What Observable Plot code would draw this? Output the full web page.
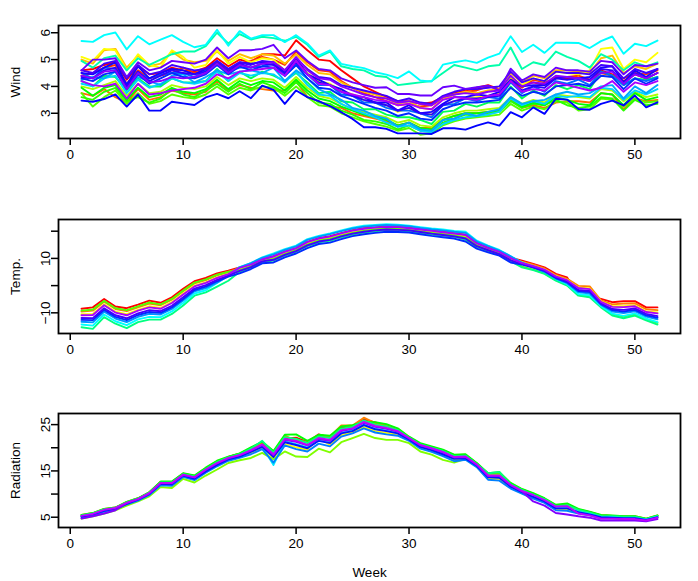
<!DOCTYPE html>
<html><head><meta charset="utf-8">
<script src="https://cdn.jsdelivr.net/npm/d3@7"></script>
<script src="https://cdn.jsdelivr.net/npm/@observablehq/plot@0.6"></script>
<style>
body{margin:0;background:#fff;}
#chart{width:698px;height:581px;overflow:hidden;}
#chart svg{display:block;}
</style>
</head><body><div id="chart"></div>
<script>
const weeks = [1,2,3,4,5,6,7,8,9,10,11,12,13,14,15,16,17,18,19,20,21,22,23,24,25,26,27,28,29,30,31,32,33,34,35,36,37,38,39,40,41,42,43,44,45,46,47,48,49,50,51,52];
const xTicks = [0,10,20,30,40,50];

// ---------- Wind ----------
const windRed = [4.6,4.65,4.8,4.9,4.25,4.75,4.45,4.5,4.7,4.6,4.55,4.7,5.05, 4.75,5.0,4.9,5.2,5.2,5.15,5.72,5.35,5.0,4.95,4.6,4.3,4.0, 3.8,3.6,3.45,3.45,3.35,3.4,3.6,3.75,3.85,3.95,4.05,3.9,4.3, 4.0,4.15,4.05,4.35,4.3,4.3,4.2,4.6,4.45,4.2,4.45,4.3,4.5];
const windVermilion = [4.4,4.5,4.7,4.8,4.1,4.6,4.3,4.4,4.5,4.7,4.5,4.6,4.9, 4.6,4.85,4.95,5.1,5.0,4.8,5.3,4.9,4.6,4.55,4.2,3.95,3.75, 3.6,3.45,3.3,3.35,3.25,3.3,3.55,3.7,3.8,3.85,4.0,3.9,4.2, 3.95,4.25,4.15,4.3,4.35,4.4,4.25,4.5,4.4,4.3,4.5,4.45,4.6];
const windOrange = [3.75,3.65,3.9,3.6,3.4,3.9,3.5,3.6,3.85,3.75,3.7,3.8,4.2, 3.85,4.05,3.95,3.9,3.85,3.85,4.2,3.6,3.45,3.25,3.2,3.0,2.9, 2.8,2.7,2.55,2.65,2.45,2.45,2.75,2.9,3.0,3.0,3.05,3.1,3.5, 3.2,3.3,3.2,3.4,3.45,3.45,3.4,3.75,3.7,3.15,3.55,3.45,3.5];
const windGold = [5.0,4.85,5.35,5.4,4.7,5.15,4.75,4.85,5.3,5.0,4.9,4.95,5.3, 4.95,5.2,5.05,5.2,5.15,4.85,5.2,4.8,4.5,4.45,4.15,3.95,3.8, 3.7,3.55,3.35,3.45,3.2,3.15,3.55,3.7,3.8,3.75,3.85,3.9,4.5, 4.15,4.4,4.3,4.6,4.6,4.55,4.5,5.05,5.15,4.5,4.75,4.65,4.85];
const windYellow = [5.1,4.95,5.4,5.35,4.6,5.2,4.8,4.7,5.35,5.1,4.7,4.8,5.35, 4.85,5.1,4.9,5.05,5.0,4.6,5.0,4.5,4.2,4.1,3.85,3.7,3.5, 3.4,3.3,3.05,3.2,3.0,2.95,3.3,3.45,3.55,3.6,3.65,3.75,4.35, 4.05,4.3,4.2,4.55,4.5,4.45,4.6,5.4,5.45,4.65,5.0,4.9,5.25];
const windChartreuse = [4.0,3.9,4.05,4.2,3.65,4.1,3.75,3.8,4.05,3.95,3.9,4.0,4.35, 4.05,4.3,4.2,4.3,4.25,3.95,4.35,3.95,3.65,3.55,3.35,3.15,3.05, 2.95,2.85,2.65,2.75,2.55,2.5,2.85,3.0,3.1,3.1,3.15,3.2,3.6, 3.35,3.5,3.4,3.7,3.65,3.6,3.55,3.9,3.85,3.45,3.8,3.6,3.7];
const windGreen = [3.75,3.25,3.6,3.85,3.35,3.75,3.35,3.45,3.7,3.6,3.55,3.7,4.0, 3.7,3.95,3.85,4.0,3.95,3.65,4.0,3.6,3.3,3.25,3.0,2.85,2.7, 2.6,2.5,2.35,2.45,2.2,2.25,2.55,2.7,2.8,2.85,2.9,2.95,3.35, 3.1,3.25,3.15,3.45,3.4,3.1,3.15,3.55,3.5,3.25,3.55,3.4,3.45];
const windLime = [3.6,3.5,3.8,3.95,3.45,3.6,3.4,3.55,3.9,3.7,3.6,3.85,4.1, 3.8,4.1,3.9,4.15,4.0,3.75,4.15,3.75,3.4,3.35,3.1,2.95,2.75, 2.7,2.6,2.4,2.55,2.35,2.3,2.65,2.8,2.95,2.9,3.0,3.05,3.45, 3.2,3.35,3.3,3.5,3.3,3.2,3.25,3.6,3.55,3.1,3.5,3.3,3.35];
const windGreen2 = [3.95,3.65,3.95,4.05,3.5,3.95,3.6,3.7,3.95,3.8,3.75,3.9,4.25, 3.9,4.2,4.05,4.2,4.15,3.85,4.25,3.85,3.55,3.45,3.25,3.1,2.95, 2.85,2.75,2.55,2.65,2.45,2.4,2.75,2.9,3.0,3.0,3.05,3.1,3.55, 3.25,3.4,3.3,3.6,3.5,3.35,3.3,3.75,3.7,3.3,3.75,3.5,3.6];
const windSpring = [4.2,4.0,4.4,4.35,3.85,4.3,4.0,4.0,4.3,4.15,4.15,4.2,4.65, 4.2,4.55,4.3,4.55,4.4,4.2,4.5,4.15,3.75,3.8,3.45,3.4,3.15, 3.15,2.95,2.85,2.85,2.75,2.6,3.05,3.1,3.35,3.25,3.4,3.4,4.0, 3.55,3.85,3.65,4.05,3.9,4.05,3.9,4.55,4.4,4.05,4.3,4.25,4.35];
const windTeal = [4.95,4.7,5.05,5.15,4.6,5.05,4.8,5.0,5.2,5.3,5.3,5.5,6.0, 5.6,5.95,5.75,5.85,5.8,5.7,5.85,5.55,5.1,5.3,4.75,4.65,4.6, 4.4,4.35,4.05,4.1,4.15,4.2,4.5,4.8,4.7,4.6,4.75,4.8,5.45, 4.65,4.9,4.8,5.3,5.1,4.95,4.7,5.2,5.0,4.6,4.9,4.75,4.9];
const windCyan = [5.69,5.66,5.91,6.01,5.38,5.87,5.57,5.74,5.91,5.66,5.46,5.55,6.11, 5.52,6.06,5.78,5.91,5.91,5.65,5.91,5.6,5.15,5.34,4.84,4.75,4.68, 4.53,4.44,4.31,4.56,4.22,4.18,4.81,4.9,4.97,4.88,5.07,5.22,5.87, 5.28,5.55,5.25,5.63,5.63,5.62,5.43,5.69,5.86,5.22,5.59,5.5,5.71];
const windAqua = [4.1,4.0,4.3,4.4,3.75,4.25,3.95,4.1,4.3,4.15,4.1,4.2,4.55, 4.2,4.5,4.4,4.5,4.45,4.15,4.55,4.05,3.7,3.65,3.35,3.15,3.0, 2.85,2.65,2.5,2.55,2.35,2.3,2.6,2.75,2.85,2.9,2.95,3.05,3.55, 3.3,3.45,3.35,3.65,3.6,3.65,3.6,3.95,3.9,3.5,3.85,3.7,3.9];
const windSky = [4.25,4.35,4.3,4.55,4.0,4.35,4.2,4.05,4.4,4.45,4.15,4.35,4.6, 4.45,4.55,4.6,4.5,4.7,4.2,4.6,4.3,3.9,3.7,3.5,3.2,3.1, 2.9,2.8,2.5,2.65,2.4,2.35,2.75,2.8,3.0,2.9,3.05,3.15,3.6, 3.35,3.45,3.5,3.7,3.8,3.7,3.75,4.0,4.05,3.55,4.0,3.75,4.05];
const windAzure = [4.5,4.3,4.7,4.65,4.1,4.5,4.3,4.45,4.5,4.5,4.35,4.6,4.8, 4.55,4.7,4.7,4.75,4.85,4.4,4.8,4.45,4.05,4.05,3.7,3.65,3.4, 3.4,3.2,3.1,3.1,3.0,2.85,3.3,3.35,3.55,3.45,3.6,3.55,4.15, 3.75,4.0,3.8,4.2,4.1,4.25,4.05,4.55,4.4,4.05,4.3,4.2,4.35];
const windBlue = [4.3,4.2,4.45,4.55,3.9,4.45,4.1,4.3,4.5,4.35,4.3,4.45,4.8, 4.45,4.75,4.6,4.75,4.7,4.4,4.8,4.3,3.95,3.9,3.65,3.5,3.35, 3.2,3.1,2.9,3.0,2.8,2.75,3.15,3.3,3.4,3.4,3.45,3.5,3.95, 3.65,3.8,3.7,4.0,4.05,4.1,4.0,4.4,4.35,3.9,4.3,4.1,4.3];
const windDarkBlue = [3.47,3.43,3.53,3.7,3.25,3.7,3.1,3.1,3.43,3.37,3.31,3.59,3.72, 3.56,3.82,3.56,4.03,3.87,3.35,3.85,3.6,3.45,3.27,3.04,2.79,2.48, 2.48,2.42,2.25,2.25,2.25,2.23,2.44,2.44,2.39,2.54,2.66,2.54,3.04, 2.85,3.22,2.98,3.54,3.51,3.16,3.13,3.35,3.47,3.29,3.66,3.22,3.41];
const windBlue2 = [4.5,4.45,4.7,4.9,4.05,4.75,4.3,4.5,4.65,4.6,4.45,4.65,4.95, 4.65,4.9,4.85,4.9,4.9,4.5,5.05,4.45,4.25,4.05,3.9,3.65,3.6, 3.4,3.4,3.1,3.3,3.0,3.05,3.35,3.6,3.6,3.7,3.65,3.8,4.25, 4.0,4.05,4.05,4.3,4.35,4.3,4.35,4.7,4.75,4.15,4.6,4.35,4.65];
const windRoyal = [4.35,4.3,4.6,4.7,4.0,4.55,4.2,4.4,4.6,4.5,4.45,4.55,4.85, 4.55,4.85,4.7,4.85,4.8,4.5,4.9,4.45,4.15,4.05,3.8,3.65,3.5, 3.4,3.3,3.1,3.2,3.0,2.95,3.3,3.45,3.55,3.55,3.6,3.65,4.2, 3.85,4.0,3.95,4.3,4.25,4.3,4.25,4.65,4.6,4.1,4.5,4.3,4.5];
const windIndigo = [4.6,4.5,4.85,4.95,4.3,4.8,4.45,4.55,4.8,4.7,4.6,4.65,4.95, 4.65,4.9,4.8,4.95,4.9,4.6,5.05,4.65,4.35,4.3,4.05,3.95,3.85, 3.75,3.65,3.45,3.55,3.4,3.35,3.65,3.8,3.9,3.9,3.95,4.0,4.55, 4.15,4.3,4.2,4.55,4.5,4.5,4.45,4.8,4.75,4.3,4.65,4.5,4.65];
const windViolet = [4.6,5.0,5.0,5.05,4.35,4.9,4.6,4.7,4.95,4.9,4.85,5.0,5.45, 5.05,5.35,5.35,5.4,5.55,5.05,5.34,4.95,4.65,4.6,4.3,4.15,4.05, 3.95,3.97,3.72,3.72,3.66,3.66,3.97,4.03,3.91,3.97,4.03,3.85,4.66, 4.22,4.45,4.35,4.7,4.6,4.6,4.55,4.95,4.9,4.45,4.8,4.75,4.85];
const windMagenta = [4.4,4.3,4.55,4.6,3.9,4.5,4.15,4.2,4.35,4.3,4.35,4.5,4.85, 4.5,4.8,4.7,4.85,4.9,4.6,5.1,4.6,4.3,4.25,4.0,3.85,3.7, 3.6,3.55,3.4,3.45,3.35,3.3,3.6,3.7,3.75,3.7,3.8,3.85,4.4, 4.0,4.15,4.1,4.4,4.35,4.3,4.2,4.5,4.55,4.1,4.45,4.3,4.5];
const windPurple = [4.2,4.05,4.0,4.1,3.55,4.1,3.7,3.75,3.85,3.9,3.95,4.1,4.45, 4.3,4.55,4.6,4.65,4.7,4.4,4.95,4.45,4.1,4.05,3.8,3.7,3.6, 3.5,3.45,3.3,3.35,3.2,3.15,3.5,3.6,3.55,3.5,3.65,3.7,4.2, 3.8,3.9,3.85,4.15,4.05,3.95,3.85,3.95,4.2,3.8,4.15,4.05,4.2];

// ---------- Temperature ----------
const tempRed = [-8.5,-8.0,-4.9,-7.7,-8.3,-7.0,-5.5,-6.3,-4.3,-1.2,1.6,2.8,4.5, 5.5,6.7,7.8,9.7,10.8,12.5,13.8,16.1,17.4,18.2,19.3,20.4,21.1, 21.4,21.8,21.6,21.3,20.7,20.2,19.8,19.3,18.7,15.6,14.0,12.5,10.3, 9.2,8.0,6.7,4.3,3.0,-3.5,-4.0,-4.9,-6.1,-5.7,-5.7,-8.0,-8.0];
const tempOrange = [-9.5,-9.2,-5.9,-8.6,-9.4,-8.0,-6.6,-7.2,-5.2,-2.1,0.8,2.0,3.8, 5.0,6.4,7.5,9.5,10.5,12.2,13.5,15.8,17.1,17.8,19.0,20.1,20.8, 21.1,21.5,21.3,21.0,20.5,19.9,19.5,19.0,18.4,15.3,13.7,12.3,10.0, 8.8,7.7,6.3,3.9,2.5,-0.1,-0.3,-5.4,-6.9,-6.6,-6.5,-8.7,-9.0];
const tempYellow = [-10.5,-10.4,-6.9,-9.6,-10.5,-8.9,-7.6,-8.2,-6.1,-3.0,0.0,1.2,3.0, 4.4,6.0,7.3,9.3,10.2,11.9,13.3,15.5,16.8,17.5,18.7,19.8,20.5, 20.9,21.2,21.1,20.8,20.2,19.7,19.2,18.7,18.0,15.1,13.5,12.1,9.8, 8.5,7.3,6.0,3.6,2.1,-0.7,-1.0,-5.8,-7.6,-7.6,-7.3,-9.5,-9.9];
const tempGreen = [-9.2,-8.8,-5.6,-8.3,-9.0,-7.6,-6.2,-6.9,-4.9,-1.8,1.1,2.3,4.0, 5.1,5.7,7.1,9.1,9.8,11.6,13.0,15.1,16.5,17.2,18.4,19.4,20.1, 20.6,20.9,20.8,20.5,19.9,19.4,18.9,18.4,17.6,14.8,13.2,11.8,9.5, 7.0,5.9,4.5,2.0,0.3,-3.3,-3.8,-7.7,-10.5,-11.4,-10.5,-12.3,-13.7];
const tempTeal = [-15.3,-15.9,-11.6,-14.0,-15.6,-13.4,-12.5,-12.5,-10.4,-7.3,-3.7,-2.5,-0.4, 1.8,5.1,6.6,8.6,9.2,11.0,12.4,14.5,15.9,16.5,17.7,18.8,19.5, 20.0,20.4,20.2,20.0,19.4,18.8,18.4,17.9,16.9,14.2,12.7,11.4,9.0, 6.7,5.7,4.3,1.8,0.0,-3.7,-4.3,-8.0,-11.0,-12.0,-11.0,-12.8,-14.3];
const tempCyan = [-14.3,-14.7,-10.6,-13.1,-14.5,-12.4,-11.5,-11.6,-9.5,-6.4,-2.9,-1.7,1.0, 3.8,6.8,8.3,10.4,11.8,13.4,14.7,17.1,18.3,19.2,20.3,21.3,22.0, 22.3,22.6,22.4,22.0,21.5,21.0,20.6,20.1,19.8,16.5,14.7,13.1,10.8, 8.5,6.9,5.2,2.5,0.5,-3.1,-3.6,-7.5,-10.3,-11.1,-10.2,-12.1,-13.4];
const tempAzure = [-13.3,-13.5,-9.6,-12.1,-13.4,-11.5,-10.4,-10.6,-8.6,-5.5,-2.1,-0.9,1.1, 3.6,6.7,8.3,10.2,11.5,13.1,14.4,16.8,18.0,18.9,20.0,21.0,21.7, 22.0,22.3,22.1,21.8,21.2,20.7,20.3,19.8,19.4,16.2,14.5,12.9,10.8, 8.4,6.7,5.0,2.6,0.9,-2.4,-2.9,-7.1,-9.5,-10.1,-9.4,-11.4,-12.4];
const tempBlue = [-12.6,-12.7,-8.9,-11.5,-12.7,-10.8,-9.7,-10.0,-8.0,-4.9,-1.6,-0.4,1.6, 3.3,4.5,6.1,8.2,8.5,10.4,11.8,13.8,15.3,15.8,17.1,18.2,18.9, 19.4,19.8,19.7,19.5,18.9,18.3,17.8,17.3,16.2,13.6,12.2,11.0,8.5, 7.7,6.6,5.3,2.8,1.2,-2.0,-2.4,-6.8,-9.0,-9.5,-8.9,-10.9,-11.8];
const tempIndigo = [-11.9,-12.0,-8.3,-10.9,-12.0,-10.2,-9.0,-9.4,-7.4,-4.3,-1.1,0.2,2.1, 3.7,5.4,6.8,8.9,9.5,11.3,12.7,14.8,16.2,16.8,18.1,19.1,19.8, 20.3,20.6,20.5,20.3,19.7,19.1,18.6,18.1,17.3,14.5,13.0,11.6,9.3, 8.0,6.9,5.5,3.1,1.5,-1.6,-2.0,-6.5,-8.6,-8.9,-8.4,-10.4,-11.2];
const tempPurple = [-10.9,-10.8,-7.2,-9.9,-10.9,-9.2,-8.0,-8.5,-6.4,-3.3,-0.3,1.0,2.8, 4.2,6.5,7.7,9.6,10.7,12.4,13.7,16.0,17.3,18.0,19.2,20.2,20.9, 21.3,21.6,21.5,21.1,20.6,20.1,19.6,19.1,18.6,15.5,13.8,12.4,10.1, 8.3,7.2,5.9,3.4,2.0,-0.9,-1.3,-6.0,-7.8,-7.9,-7.6,-9.7,-10.2];

// ---------- Radiation ----------
const radRed = [5.4,5.8,6.7,7.0,8.1,9.0,10.3,12.6,12.6,14.4,13.9,15.5,16.8, 18.0,18.7,19.9,21.1,19.0,22.0,22.2,21.2,22.9,22.2,24.3,24.6,26.1, 25.5,24.8,24.0,22.0,20.8,20.1,19.4,18.3,18.4,16.6,14.3,14.0,12.2, 10.9,10.0,8.9,7.5,7.8,6.6,6.1,5.4,5.3,5.1,5.1,4.6,5.3];
const radOrange = [5.5,5.9,6.8,7.1,8.3,9.1,10.4,12.6,12.6,14.4,13.9,15.6,17.1, 18.0,18.7,19.6,21.2,19.2,22.6,21.5,21.3,22.7,22.4,24.8,24.8,26.5, 25.3,24.9,24.1,22.3,20.5,20.2,19.5,18.4,18.5,16.6,14.4,14.6,12.3, 11.0,10.1,9.0,7.6,7.3,6.7,6.1,5.4,5.3,5.2,5.2,4.7,5.4];
const radYellow = [5.1,5.5,6.3,6.8,7.9,8.7,9.9,12.0,11.9,13.8,13.2,14.8,16.2, 17.3,18.0,18.8,20.0,17.7,20.8,20.1,19.6,22.2,20.6,22.7,23.4,24.5, 23.6,23.2,22.8,21.6,20.0,19.3,18.4,17.3,17.6,15.9,13.3,13.2,11.4, 10.2,9.2,8.2,6.7,6.7,5.9,5.5,4.8,4.8,4.7,4.7,4.4,5.0];
const radChartreuse = [4.7,5.2,5.8,6.5,7.5,8.4,9.5,11.5,11.3,13.3,12.5,14.0,15.3, 16.7,17.3,17.8,18.9,17.5,19.2,18.1,18.0,19.8,19.0,21.2,22.1,23.0, 22.1,21.7,21.7,21.0,19.2,18.5,17.4,16.8,17.6,16.2,14.2,14.3,12.1, 10.9,9.9,8.9,7.4,7.6,6.6,6.0,5.3,5.2,5.1,5.1,4.6,5.3];
const radGreen = [5.5,5.9,6.8,7.1,8.3,9.1,10.4,12.7,12.7,14.5,14.0,15.7,17.2, 18.1,18.8,20.1,21.3,19.3,22.8,22.9,21.5,22.8,22.6,24.6,24.9,25.6, 25.5,25.1,24.2,22.4,21.0,20.3,19.6,18.5,18.6,16.7,14.5,14.7,12.4, 11.1,10.2,9.1,7.7,8.0,6.8,6.2,5.5,5.4,5.2,5.2,4.7,5.4];
const radSpring = [5.4,5.8,6.7,7.0,8.2,9.0,10.3,12.5,12.5,14.3,13.8,15.4,16.9, 17.9,18.6,19.8,21.5,18.9,22.3,21.9,21.0,22.4,22.1,24.1,24.5,25.9, 25.0,24.6,23.8,22.2,20.7,20.0,19.3,18.2,18.3,16.5,14.5,14.8,12.1, 10.9,9.9,8.9,7.4,7.6,6.6,6.0,5.3,5.2,5.1,5.1,4.6,5.3];
const radCyan = [5.2,5.6,6.4,6.9,8.0,8.8,10.0,12.2,12.1,14.0,13.4,15.0,16.4, 17.5,18.2,19.2,20.3,16.3,21.4,20.8,20.1,21.6,21.2,23.2,23.8,25.0, 24.1,23.7,23.2,21.8,20.3,19.6,18.7,17.7,17.8,16.1,13.7,13.6,11.7, 10.5,9.5,8.5,7.0,7.0,6.2,5.7,5.0,5.0,4.8,4.8,4.5,5.1];
const radAzure = [5.0,5.4,6.2,6.7,7.8,8.6,9.8,11.9,11.8,13.7,13.0,14.6,16.0, 17.2,17.8,18.6,19.7,16.8,20.5,19.7,19.2,20.9,20.3,22.4,23.1,24.2, 23.3,22.9,22.6,21.5,19.8,19.1,18.2,17.1,17.4,15.8,13.1,12.9,11.2, 10.1,9.0,8.1,6.5,6.4,5.8,5.4,4.7,4.7,4.6,4.6,4.3,4.9];
const radBlue = [5.1,5.6,6.4,6.8,7.9,8.8,10.0,12.2,12.1,14.0,13.3,14.9,16.3, 17.5,18.1,19.1,20.2,18.0,21.2,20.6,19.9,21.5,21.0,23.1,23.6,24.9, 24.0,23.6,23.1,21.8,20.2,19.5,18.6,17.6,17.7,16.1,13.6,13.5,11.6, 10.4,9.4,8.4,6.9,6.9,6.1,5.6,5.0,4.9,4.8,4.8,4.4,5.0];
const radPurple = [4.7,5.2,5.8,6.5,8.1,8.9,10.1,12.3,12.3,14.1,13.6,15.2,16.6, 17.7,18.4,19.4,20.6,18.4,21.7,21.3,20.5,21.9,21.5,23.6,24.1,25.4, 24.5,24.1,23.5,22.0,20.5,19.8,19.0,17.9,18.0,16.3,13.9,13.9,11.9, 10.6,8.4,7.5,5.9,5.6,5.2,4.9,4.3,4.3,4.3,4.3,4.1,4.6];
const radViolet = [5.3,5.7,6.6,7.0,8.1,8.9,10.2,12.4,12.4,14.2,13.6,15.3,16.7, 17.8,18.4,19.5,20.7,18.6,21.9,21.5,20.6,22.1,21.7,23.8,24.2,25.6, 24.7,24.3,23.6,22.1,20.6,19.9,19.1,18.0,18.1,16.4,14.0,14.0,12.0, 10.7,9.8,8.7,7.3,7.4,5.8,5.4,4.7,4.7,4.6,4.6,4.3,4.9];

// tick values
const windTicks = [3,4,5,6];
const windTickLabels = [3,4,5,6];
const tempTicks = [-10,0,10,20];
const tempTickLabels = [-10,10];
const radTicks = [5,10,15,20,25];
const radTickLabels = [5,15,25];

// ---------- styling ----------
const windHues = [0,12,25,45,60,80,100,110,120,140,160,180,190,200,215,230,240,245,250,255,265,272,280];
const tempHues = [0,30,60,100,150,180,205,230,255,280];
const radHues = [0,30,60,90,120,150,185,210,235,270,285];
const font = "'Liberation Sans', Arial, Helvetica, sans-serif";

function panel({series, hues, yDomain, yTicks, yTickLabels, yLabel, height, marginBottom, xLabel}) {
  const names = series.map((_, i) => "s" + i);
  const data = [];
  series.forEach((vals, i) => vals.forEach((v, j) => data.push({week: weeks[j], value: v, series: names[i]})));
  const fmt = d => yTickLabels.includes(d) ? String(d).replace("-", "\u2212") : "";
  return Plot.plot({
    width: 698, height, marginTop: 25, marginBottom, marginLeft: 58, marginRight: 18,
    style: {fontFamily: font, fontSize: "13.5px", color: "black", background: "white", overflow: "visible"},
    x: {domain: [-1.04, 54.04]},
    y: {domain: yDomain},
    color: {type: "ordinal", domain: names, range: hues.map(h => d3.hsl(h, 1, 0.5).formatHex())},
    marks: [
      Plot.line(data, {x: "week", y: "value", z: "series", stroke: "series", strokeWidth: 1.9}),
      Plot.frame({stroke: "black", strokeWidth: 1.8}),
      Plot.axisX({ticks: xTicks, tickSize: 7, tickPadding: 4, strokeWidth: 1.5,
        label: xLabel, labelAnchor: "center", labelArrow: false, labelOffset: 49}),
      Plot.axisY({ticks: yTicks, tickFormat: fmt, tickRotate: -90, tickSize: 7, tickPadding: 2, strokeWidth: 1.5,
        label: yLabel, labelAnchor: "center", labelArrow: false, labelOffset: 48})
    ]
  });
}

const chart = document.getElementById("chart");
chart.append(panel({
  series: [windRed, windVermilion, windOrange, windGold, windYellow, windChartreuse, windGreen, windLime, windGreen2, windSpring, windTeal, windCyan, windAqua, windSky, windAzure, windBlue, windDarkBlue, windBlue2, windRoyal, windIndigo, windViolet, windMagenta, windPurple],
  hues: windHues, yDomain: [2.06, 6.27], yTicks: windTicks, yTickLabels: windTickLabels,
  yLabel: "Wind", height: 194, marginBottom: 56, xLabel: null
}));
chart.append(panel({
  series: [tempRed, tempOrange, tempYellow, tempGreen, tempTeal, tempCyan, tempAzure, tempBlue, tempIndigo, tempPurple],
  hues: tempHues, yDomain: [-17.6, 24.3], yTicks: tempTicks, yTickLabels: tempTickLabels,
  yLabel: "Temp.", height: 194, marginBottom: 55, xLabel: null
}));
chart.append(panel({
  series: [radRed, radOrange, radYellow, radChartreuse, radGreen, radSpring, radCyan, radAzure, radBlue, radPurple, radViolet],
  hues: radHues, yDomain: [2.78, 27.4], yTicks: radTicks, yTickLabels: radTickLabels,
  yLabel: "Radiation", height: 193, marginBottom: 54, xLabel: "Week"
}));
</script>
</body></html>
